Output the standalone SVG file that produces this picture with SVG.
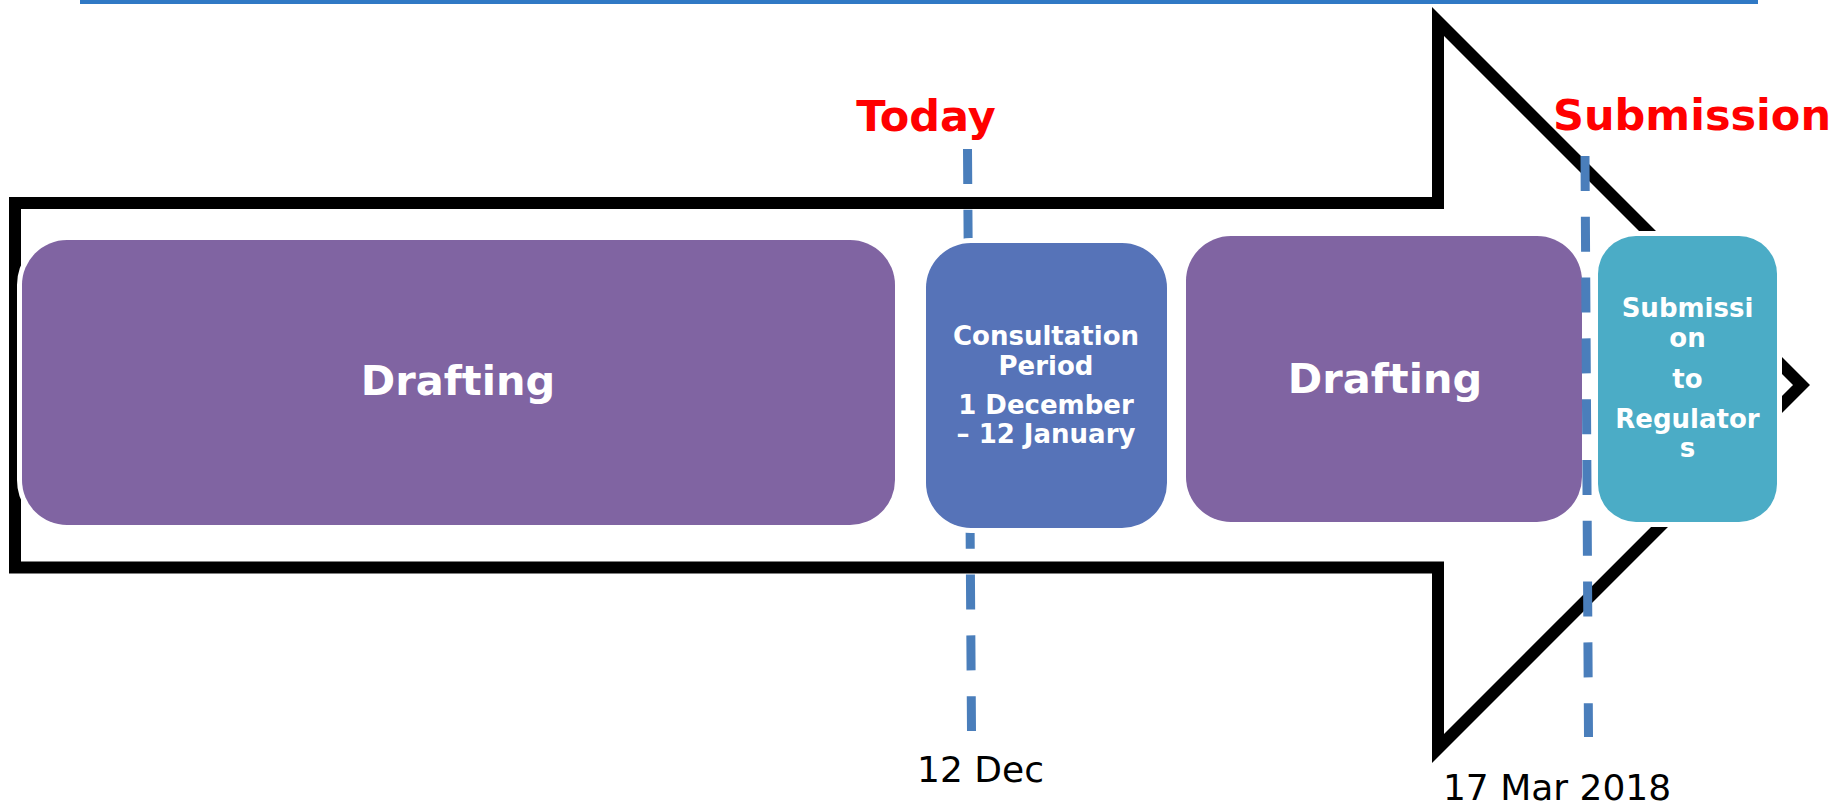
<svg xmlns="http://www.w3.org/2000/svg" width="1835" height="806" viewBox="0 0 1835 806">
  <style>
    .box { stroke: #ffffff; stroke-width: 10; paint-order: stroke; }
    .drafting { fill: #8064A2; }
    .consult { fill: #5673B8; }
    .submit { fill: #4BACC6; }
    .wt { fill: #ffffff; font-family: "DejaVu Sans", Verdana, sans-serif; font-weight: bold; text-anchor: middle; }
    .big { font-size: 41.5px; }
    .small { font-size: 26px; }
    .red { fill: #FF0000; font-family: "DejaVu Sans", Verdana, sans-serif; font-weight: bold; font-size: 43px; text-anchor: middle; }
    .date { fill: #000000; font-family: "DejaVu Sans", Verdana, sans-serif; font-size: 36px; text-anchor: middle; }
    .dash { stroke: #4A7EBB; stroke-width: 9; stroke-dasharray: 35 25.8; fill: none; }
  </style>

  <rect id="top-rule" x="80" y="0" width="1678" height="4" fill="#3079C5"/>

  <g id="timeline-arrow">
    <path d="M15,203 L1438,203 L1438,21.5 L1801.5,385 L1438,748.5 L1438,567.5 L15,567.5 Z" fill="none" stroke="#000000" stroke-width="12" stroke-miterlimit="10"/>
  </g>

  <g id="connectors">
    <line id="today-line" class="dash" x1="967.5" y1="149" x2="971.5" y2="731"/>
  </g>

  <g id="node-drafting-1">
    <rect class="box drafting" x="22" y="240" width="873" height="285" rx="45" ry="45"/>
    <text class="wt big" x="458" y="395">Drafting</text>
  </g>

  <g id="node-consultation">
    <rect class="box consult" x="926" y="243" width="241" height="285" rx="45" ry="45"/>
    <text class="wt small" x="1046" y="345">Consultation</text>
    <text class="wt small" x="1046" y="375">Period</text>
    <text class="wt small" x="1046" y="414">1 December</text>
    <text class="wt small" x="1046" y="443">– 12 January</text>
  </g>

  <g id="node-drafting-2">
    <rect class="box drafting" x="1186" y="236" width="396" height="286" rx="45" ry="45"/>
    <text class="wt big" x="1385" y="393">Drafting</text>
  </g>

  <g id="node-submission">
    <rect class="box submit" x="1598" y="236" width="179" height="286" rx="38" ry="38"/>
    <text class="wt small" x="1687.5" y="317">Submissi</text>
    <text class="wt small" x="1687.5" y="347">on</text>
    <text class="wt small" x="1687.5" y="388">to</text>
    <text class="wt small" x="1687.5" y="428">Regulator</text>
    <text class="wt small" x="1687.5" y="457">s</text>
  </g>

  <g id="connectors-top">
    <line id="submission-line" class="dash" x1="1585" y1="156" x2="1588.5" y2="737"/>
  </g>

  <g id="labels">
    <text class="red" x="926" y="131">Today</text>
    <text class="red" x="1692" y="130">Submission</text>
    <text class="date" x="980.5" y="782">12 Dec</text>
    <text class="date" x="1557" y="800">17 Mar 2018</text>
  </g>
</svg>
